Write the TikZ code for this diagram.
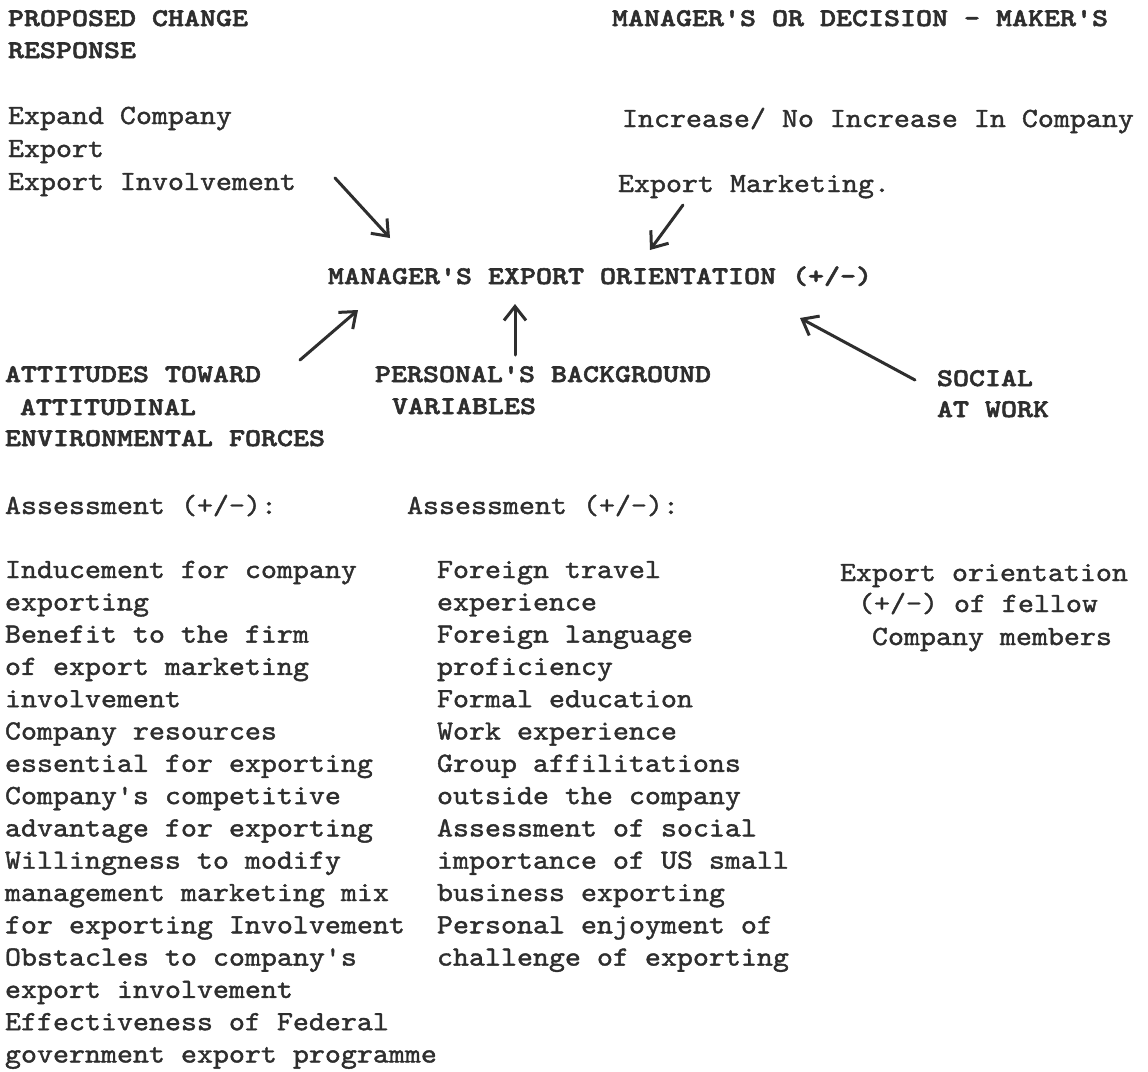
\documentclass[tikz,border=0pt]{standalone}
\usepackage{fontspec}
\usetikzlibrary{arrows.meta}
% typewriter faces: wide slab-serif body, heavy caps for headings
\newfontfamily\typed{lmmono10-regular}[Extension=.otf, FakeStretch=1.096, FakeBold=1.4]
\newfontfamily\typedhead{lmmonolt10-bold}[Extension=.otf, FakeStretch=1.2, FakeBold=2.2]
\definecolor{ink}{HTML}{2E2E2E}
\begin{document}
\begin{tikzpicture}[x=0.5pt,y=-0.5pt,
  txt/.style={anchor=base west, inner sep=0pt, outer sep=0pt, text=ink,
    font=\typed\fontsize{13.9}{16}\selectfont},
  head/.style={txt, font=\typedhead\fontsize{12.7}{16}\selectfont},
  arr/.style={draw=ink, line width=1.5pt, line cap=round,
    -{Straight Barb[length=7pt,width=11pt,line width=1.5pt]}}]
\fill[white] (0,0) rectangle (1148,1072);
\path[use as bounding box] (0,0) rectangle (1148,1072);

% top left: proposed change
\node[head] (pc1) at (8,26) {PROPOSED CHANGE};
\node[head] (pc2) at (8,58) {RESPONSE};
\node[txt] (pc3) at (8,124) {Expand Company};
\node[txt] (pc4) at (8,157) {Export};
\node[txt] (pc5) at (8,190) {Export Involvement};

% top right: manager's response
\node[head] (mr1) at (612,26) {MANAGER'S OR DECISION - MAKER'S};
\node[txt] (mr2) at (622,127) {Increase/ No Increase In Company};
\node[txt] (mr3) at (618,192) {Export Marketing.};

% centre
\node[head] (eo) at (328,284) {MANAGER'S EXPORT ORIENTATION (+/-)};

% influences
\node[head] (at1) at (5,382) {ATTITUDES TOWARD};
\node[head] (at2) at (20,415) {ATTITUDINAL};
\node[head] (at3) at (5,446) {ENVIRONMENTAL FORCES};
\node[head] (pb1) at (375,382) {PERSONAL'S BACKGROUND};
\node[head] (pb2) at (392,414) {VARIABLES};
\node[head] (sw1) at (937,386) {SOCIAL};
\node[head] (sw2) at (937,417) {AT WORK};

% assessments
\node[txt] (as1) at (5,514) {Assessment (+/-):};
\node[txt] (as2) at (407,514) {Assessment (+/-):};

% left column
\foreach \t [count=\i from 0] in {
  Inducement for company,
  exporting,
  Benefit to the firm,
  of export marketing,
  involvement,
  Company resources,
  essential for exporting,
  Company's competitive,
  advantage for exporting,
  Willingness to modify,
  management marketing mix,
  for exporting Involvement,
  Obstacles to company's,
  export involvement,
  Effectiveness of Federal,
  government export programme}
  \node[txt] (lc\i) at (5,578+32.3*\i) {\t};

% middle column
\foreach \t [count=\i from 0] in {
  Foreign travel,
  experience,
  Foreign language,
  proficiency,
  Formal education,
  Work experience,
  Group affilitations,
  outside the company,
  Assessment of social,
  importance of US small,
  business exporting,
  Personal enjoyment of,
  challenge of exporting}
  \node[txt] (mc\i) at (437,578+32.3*\i) {\t};

% right column
\node[txt] (rc1) at (840,581) {Export orientation};
\node[txt] (rc2) at (858,612) {(+/-) of fellow};
\node[txt] (rc3) at (872,645) {Company members};

% arrow end points
\coordinate (a1s) at (335,178); \coordinate (a1e) at (390,238);
\coordinate (a2s) at (683,205); \coordinate (a2e) at (650,250);
\coordinate (a3s) at (300,360); \coordinate (a3e) at (358,310);
\coordinate (a4s) at (515,355); \coordinate (a4e) at (515,304);
\coordinate (a5s) at (915,380); \coordinate (a5e) at (800,318);

\draw[arr] (a1s) -- (a1e);
\draw[arr] (a2s) -- (a2e);
\draw[arr] (a3s) -- (a3e);
\draw[arr] (a4s) -- (a4e);
\draw[arr] (a5s) -- (a5e);
\end{tikzpicture}
\end{document}
